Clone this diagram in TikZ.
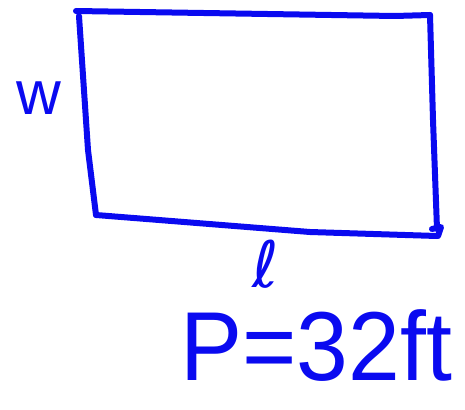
\documentclass[tikz,border=0pt]{standalone}
\usepackage{fontspec}
\setmainfont{Liberation Sans}
\newfontfamily\symfont{DejaVu Sans}
\begin{document}
\begin{tikzpicture}[x=1pt,y=-1pt,
  pen/.style={draw=penblue,line width=6pt,line cap=round,line join=round},
  hand/.style={text=penblue,inner sep=0pt}]
\definecolor{penblue}{RGB}{10,10,240}
\useasboundingbox (0,0) rectangle (465,409);
% rectangle corners
\coordinate (tl) at (76,11);
\coordinate (tr) at (430,15);
\coordinate (br) at (437,236);
\coordinate (bl) at (96,215);
\draw[pen] (tl) -- (395,16) -- (tr);
\draw[pen] (79,16) -- (88,150) -- (bl);
\draw[pen] (bl) -- (310,232) -- (br);
\draw[pen] (tr) -- (433,120) -- (437,229);
\draw[pen] (432,229) -- (441,227) -- (438,236);
% labels
\node[hand,font=\fontsize{62}{62}\selectfont] (w) at (39,98) {w};
\node[hand,font=\symfont\fontsize{64}{64}\selectfont] (l) at (266,264) {ℓ};
\node[hand,font=\fontsize{98}{98}\selectfont,xscale=0.95] (p) at (316,346) {P=32ft};
\end{tikzpicture}
\end{document}
